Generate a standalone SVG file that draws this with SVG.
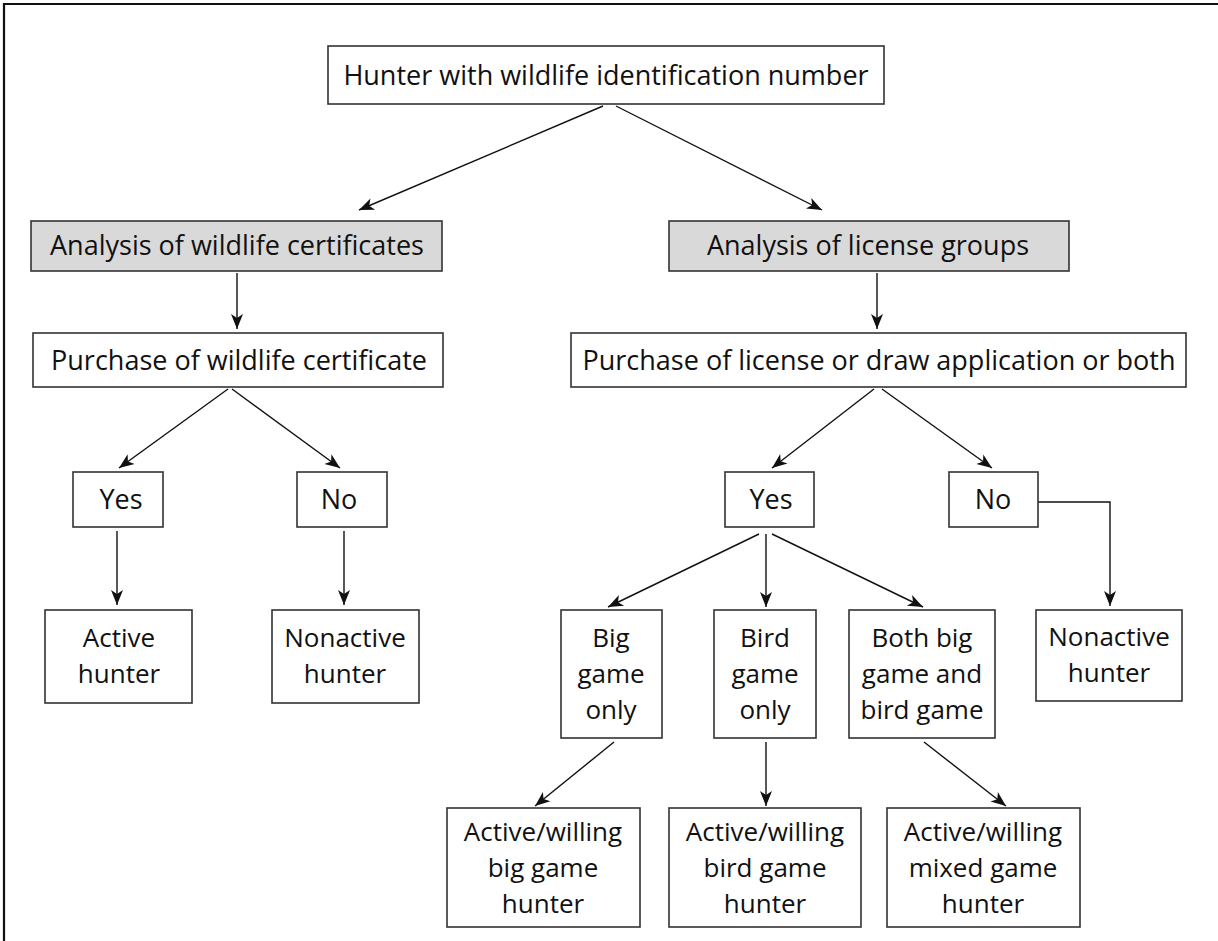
<svg xmlns="http://www.w3.org/2000/svg" width="1218" height="941" viewBox="0 0 1218 941">
<defs>
<style>
.box{fill:#fff;stroke:#333;stroke-width:1.6}
.gray{fill:#d9d9d9;stroke:#333;stroke-width:1.6}
.t{font-family:"Open Sans","Noto Sans","Liberation Sans",sans-serif;font-size:27px;fill:#111;text-anchor:middle}
.m{font-size:26px}
.c{fill:none;stroke:#111;stroke-width:1.4;marker-end:url(#ah)}
</style>
<marker id="ah" viewBox="-16 -7 18 14" refX="0" refY="0" markerWidth="18" markerHeight="14" markerUnits="userSpaceOnUse" orient="auto">
<path d="M0,0 L-15,-6 L-11,0 L-15,6 Z" fill="#111"/>
</marker>
</defs>
<rect width="1218" height="941" fill="#fff"/>
<g id="frame" stroke="#111" stroke-width="2.2">
<line x1="4" y1="4" x2="1218" y2="4"/>
<line x1="4" y1="3" x2="4" y2="941"/>
</g>
<g id="connectors">
<path class="c" d="M603,106 L359,210"/>
<path class="c" d="M616,106 L822,210"/>
<path class="c" d="M237,273 L237,329"/>
<path class="c" d="M877,273 L877,329"/>
<path class="c" d="M228,389 L119,468"/>
<path class="c" d="M232,389 L340,468"/>
<path class="c" d="M874,389 L772,468"/>
<path class="c" d="M882,389 L992,468"/>
<path class="c" d="M117,531 L117,605"/>
<path class="c" d="M344,531 L344,605"/>
<path class="c" d="M759,534 L608,607"/>
<path class="c" d="M766,534 L766,607"/>
<path class="c" d="M772,534 L923,607"/>
<path class="c" d="M1038,502 H1110 V606"/>
<path class="c" d="M614,742 L535,806"/>
<path class="c" d="M766,742 L766,806"/>
<path class="c" d="M924,742 L1006,806"/>
</g>
<g id="n-hunter"><rect class="box" x="328" y="46" width="556" height="58"/><text class="t" x="606" y="85">Hunter with wildlife identification number</text></g>
<g id="n-analysis-cert"><rect class="gray" x="31" y="221" width="411" height="50"/><text class="t" x="237" y="255">Analysis of wildlife certificates</text></g>
<g id="n-analysis-lic"><rect class="gray" x="669" y="221" width="400" height="50"/><text class="t" x="868" y="255">Analysis of license groups</text></g>
<g id="n-purchase-cert"><rect class="box" x="33" y="333" width="410" height="54"/><text class="t" x="239" y="370">Purchase of wildlife certificate</text></g>
<g id="n-purchase-lic"><rect class="box" x="571" y="333" width="615" height="54"/><text class="t" x="879" y="370">Purchase of license or draw application or both</text></g>
<g id="n-yes-left"><rect class="box" x="73" y="472" width="90" height="55"/><text class="t" x="121" y="509">Yes</text></g>
<g id="n-no-left"><rect class="box" x="297" y="472" width="90" height="55"/><text class="t" x="339" y="509">No</text></g>
<g id="n-yes-right"><rect class="box" x="725" y="472" width="89" height="55"/><text class="t" x="771" y="509">Yes</text></g>
<g id="n-no-right"><rect class="box" x="949" y="472" width="89" height="55"/><text class="t" x="993" y="509">No</text></g>
<g id="n-active"><rect class="box" x="45" y="610" width="147" height="93"/><text class="t m" x="119" y="647">Active</text><text class="t m" x="119" y="683">hunter</text></g>
<g id="n-nonactive-left"><rect class="box" x="272" y="610" width="147" height="93"/><text class="t m" x="345" y="647">Nonactive</text><text class="t m" x="345" y="683">hunter</text></g>
<g id="n-big"><rect class="box" x="561" y="610" width="101" height="128"/><text class="t m" x="611" y="647">Big</text><text class="t m" x="611" y="683">game</text><text class="t m" x="611" y="719">only</text></g>
<g id="n-bird"><rect class="box" x="714" y="610" width="102" height="128"/><text class="t m" x="765" y="647">Bird</text><text class="t m" x="765" y="683">game</text><text class="t m" x="765" y="719">only</text></g>
<g id="n-both"><rect class="box" x="849" y="610" width="146" height="128"/><text class="t m" x="922" y="647">Both big</text><text class="t m" x="922" y="683">game and</text><text class="t m" x="922" y="719">bird game</text></g>
<g id="n-nonactive-right"><rect class="box" x="1036" y="610" width="146" height="91"/><text class="t m" x="1109" y="646">Nonactive</text><text class="t m" x="1109" y="682">hunter</text></g>
<g id="n-aw-big"><rect class="box" x="447" y="808" width="193" height="119"/><text class="t m" x="543" y="841">Active/willing</text><text class="t m" x="543" y="877">big game</text><text class="t m" x="543" y="913">hunter</text></g>
<g id="n-aw-bird"><rect class="box" x="669" y="808" width="192" height="119"/><text class="t m" x="765" y="841">Active/willing</text><text class="t m" x="765" y="877">bird game</text><text class="t m" x="765" y="913">hunter</text></g>
<g id="n-aw-mixed"><rect class="box" x="887" y="808" width="193" height="119"/><text class="t m" x="983" y="841">Active/willing</text><text class="t m" x="983" y="877">mixed game</text><text class="t m" x="983" y="913">hunter</text></g>
</svg>
